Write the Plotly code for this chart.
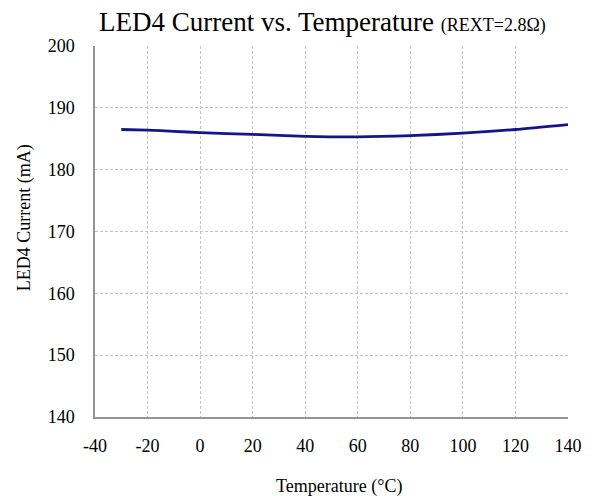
import plotly.graph_objects as go

temperature = [-30, -20, -10, 0, 20, 40, 60, 80, 100, 120, 140]
current_ma = [186.5, 186.4, 186.2, 186.0, 185.7, 185.4, 185.3, 185.5, 185.9, 186.5, 187.3]
x_ticks = [-40, -20, 0, 20, 40, 60, 80, 100, 120, 140]
y_ticks = [140, 150, 160, 170, 180, 190, 200]

FONT = "Liberation Serif, Times New Roman, serif"

fig = go.Figure()
fig.add_trace(go.Scatter(
    x=temperature, y=current_ma, mode="lines",
    line=dict(color="#15158a", width=2.8, shape="spline", smoothing=0.6),
    showlegend=False, hoverinfo="skip",
))

fig.update_layout(
    width=597, height=496,
    margin=dict(l=95, r=29, t=46, b=79),
    paper_bgcolor="white", plot_bgcolor="white",
    font=dict(family=FONT, size=18, color="#000"),
    title=dict(
        text="LED4 Current vs. Temperature <span style='font-size:18px'>(REXT=2.8Ω)</span>",
        xref="container", x=0.540, xanchor="center",
        yref="container", y=0.956, yanchor="middle",
        font=dict(family=FONT, size=27, color="#000"),
    ),
    xaxis=dict(
        range=[-40, 140], tickvals=x_ticks, ticktext=[str(v) for v in x_ticks],
        showgrid=True, gridcolor="#c4c4c4", griddash="3px,2px", gridwidth=1,
        showline=True, linecolor="#959595", linewidth=1.5, mirror=False,
        ticks="", ticklabelstandoff=12, zeroline=False,
        tickfont=dict(family=FONT, size=18),
    ),
    yaxis=dict(
        range=[140, 200], tickvals=y_ticks,
        showgrid=True, gridcolor="#c4c4c4", griddash="3px,2px", gridwidth=1,
        showline=True, linecolor="#959595", linewidth=1.5, mirror=False,
        ticks="", ticklabelstandoff=15, zeroline=False,
        tickfont=dict(family=FONT, size=18),
    ),
    annotations=[
        dict(text="Temperature (°C)", xref="paper", yref="paper",
             x=0.516, y=-0.186, xanchor="center", yanchor="middle",
             showarrow=False, font=dict(family=FONT, size=18)),
        dict(text="LED4 Current (mA)", xref="paper", yref="paper",
             x=-0.150, y=0.536, xanchor="center", yanchor="middle", textangle=-90,
             showarrow=False, font=dict(family=FONT, size=18)),
    ],
)

fig.write_html("out.html")
